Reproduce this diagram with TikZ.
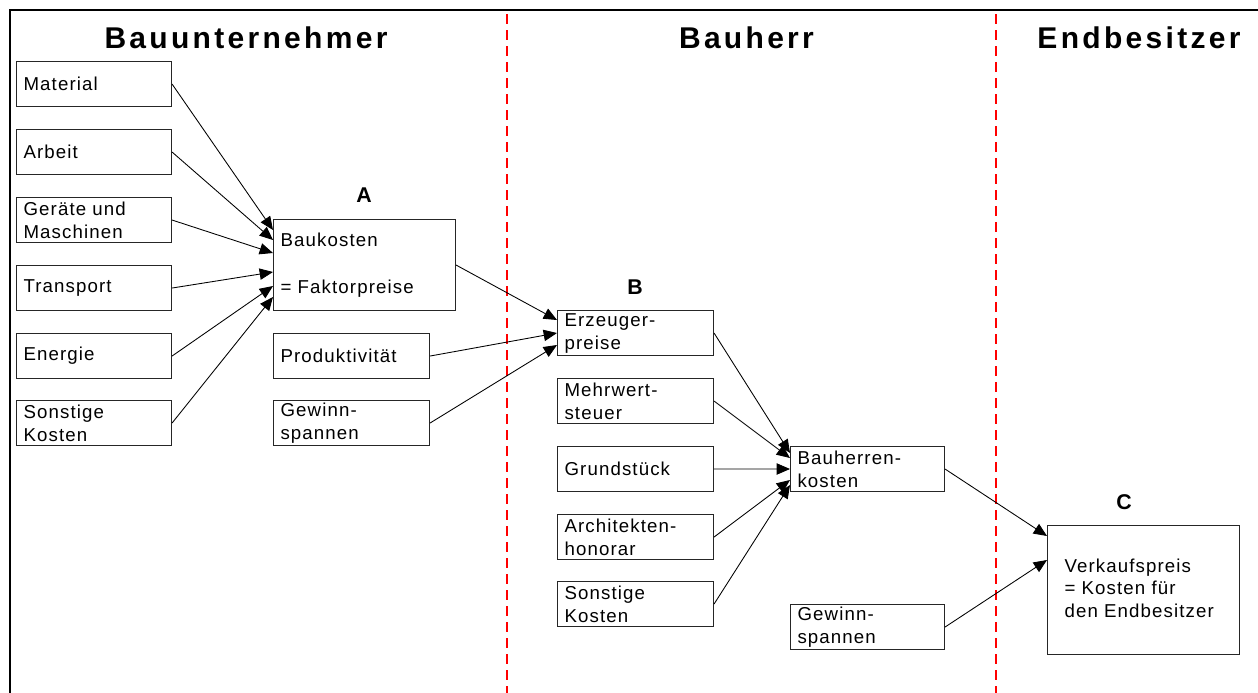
\documentclass[tikz,border=0pt]{standalone}
\usepackage{fontspec}
\setmainfont{Liberation Sans}
\newfontfamily\boxfont[LetterSpace=6]{Liberation Sans}
\newfontfamily\titlefont[LetterSpace=11]{Liberation Sans}
\usetikzlibrary{arrows.meta,calc}
\tikzset{
  box/.style={draw=black!85, line width=0.8pt, anchor=north west, inner xsep=5.25pt, inner ysep=0pt,
    minimum height=33.75pt, align=left, font=\boxfont\fontsize{14}{17.25}\selectfont},
  w155/.style={text width=105.75pt},
  w156/.style={text width=106.5pt},
  w154/.style={text width=105pt},
  title/.style={anchor=base, font=\titlefont\bfseries\fontsize{22.5}{27}\selectfont},
  letter/.style={font=\bfseries\fontsize{16}{19}\selectfont},
  arr/.style={line width=0.65pt, -{Triangle[length=10pt,width=8.5pt]}},
  sep/.style={red, line width=0.9pt, dash pattern=on 7.5pt off 4.5pt},
  frame/.style={line width=1.5pt, black}
}
\begin{document}
\begin{tikzpicture}[x=0.75pt,y=-0.75pt]
\useasboundingbox (0,0) rectangle (1258,693);
\fill[white] (0,0) rectangle (1258,693);
% frame and separators
\draw[frame] (10,693) -- (10,10) -- (1258,10);
\draw[sep] (507,14) -- (507,693);
\draw[sep] (996,14) -- (996,693);
% titles
\node[title] (t1) at (246,48) {Bauunternehmer};
\node[title] (t2) at (746.5,48) {Bauherr};
\node[title] (t3) at (1139,48) {Endbesitzer};
% left column
\node[box,w155] (mat) at (16,61) {Material};
\node[box,w155] (arb) at (16,129) {Arbeit};
\node[box,w155] (ger) at (16,197) {Geräte und\\Maschinen};
\node[box,w155] (tra) at (16,265) {Transport};
\node[box,w155] (ene) at (16,333) {Energie};
\node[box,w155] (son) at (16,400) {Sonstige\\Kosten};
% A
\node[letter] (la) at (364,195) {A};
\node[box, text width=126pt, minimum height=68.25pt] (A) at (273,219) {Baukosten\\[17.5pt]= Faktorpreise};
\node[box,w156] (pro) at (273,333) {Produktivität};
\node[box,w156] (gw1) at (273,400) {Gewinn-\\spannen};
% B column
\node[letter] (lb) at (635,287) {B};
\node[box,w156] (B) at (557,310) {Erzeuger-\\preise};
\node[box,w156] (mwst) at (557,378) {Mehrwert-\\steuer};
\node[box,w156] (gru) at (557,446) {Grundstück};
\node[box,w156] (arc) at (557,514) {Architekten-\\honorar};
\node[box,w156] (son2) at (557,581) {Sonstige\\Kosten};
% Bauherrenkosten
\node[box,w154] (bh) at (790,446) {Bauherren-\\kosten};
\node[box,w154] (gw2) at (790,604) {Gewinn-\\spannen};
% C
\node[letter] (lc) at (1124,502) {C};
\node[box, text width=144pt, inner xsep=0pt, minimum height=96.75pt] (C) at (1047,525)
  {\hspace*{12.75pt}\begin{tabular}{@{}l@{}}Verkaufspreis\\[-0.4pt]= Kosten für\\[-0.4pt]den Endbesitzer\end{tabular}\\[34pt]};
% arrows into A
\draw[arr] (mat.east) -- ($(A.north west)+(0,11)$);
\draw[arr] (arb.east) -- ($(A.north west)+(0,21)$);
\draw[arr] (ger.east) -- ($(A.north west)+(0,34)$);
\draw[arr] (tra.east) -- ($(A.north west)+(0,53)$);
\draw[arr] (ene.east) -- ($(A.north west)+(0,67)$);
\draw[arr] (son.east) -- ($(A.north west)+(0,78)$);
% arrows into B
\draw[arr] (A.east) -- ($(B.north west)+(0,10)$);
\draw[arr] (pro.east) -- ($(B.north west)+(0,23)$);
\draw[arr] (gw1.east) -- ($(B.north west)+(0,35)$);
% arrows into Bauherrenkosten
\draw[arr] (B.east) -- ($(bh.north west)+(0,7)$);
\draw[arr] (mwst.east) -- ($(bh.north west)+(0,12)$);
\draw[arr] (gru.east) -- ($(bh.north west)+(0,23)$);
\draw[arr] (arc.east) -- ($(bh.north west)+(0,34)$);
\draw[arr] (son2.east) -- ($(bh.north west)+(0,39)$);
% arrows into C
\draw[arr] (bh.east) -- ($(C.north west)+(0,11)$);
\draw[arr] (gw2.east) -- ($(C.north west)+(0,35)$);
\end{tikzpicture}
\end{document}
